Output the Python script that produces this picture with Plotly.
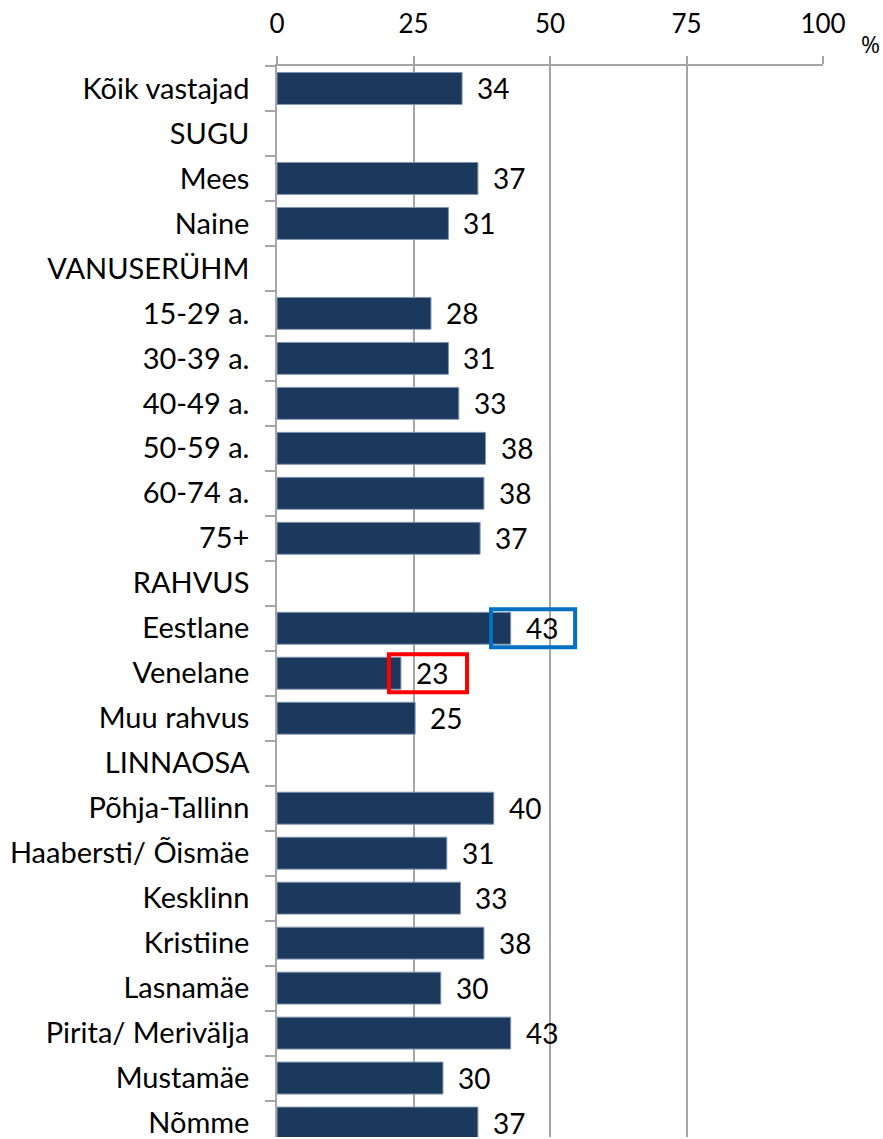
import plotly.graph_objects as go

categories = ["Kõik vastajad", "SUGU", "Mees", "Naine", "VANUSERÜHM", "15-29 a.", "30-39 a.",
              "40-49 a.", "50-59 a.", "60-74 a.", "75+", "RAHVUS", "Eestlane", "Venelane",
              "Muu rahvus", "LINNAOSA", "Põhja-Tallinn", "Haabersti/ Õismäe", "Kesklinn",
              "Kristiine", "Lasnamäe", "Pirita/ Merivälja", "Mustamäe", "Nõmme"]
values = [33.9, None, 36.8, 31.4, None, 28.2, 31.4, 33.3, 38.2, 37.9, 37.2, None, 42.8, 22.7,
          25.3, None, 39.7, 31.1, 33.6, 37.9, 30.0, 42.8, 30.4, 36.8]
labels = ["34", "", "37", "31", "", "28", "31", "33", "38", "38", "37", "", "43", "23",
          "25", "", "40", "31", "33", "38", "30", "43", "30", "37"]
x_ticks = [0, 25, 50, 75, 100]
unit_label = "%"
highlight = {"Eestlane": "#0070C0", "Venelane": "#FF0000"}
highlight_span = {"Eestlane": (39.2, 54.6), "Venelane": (20.5, 34.8)}

FONT = "Lato, Carlito, Calibri, 'Liberation Sans Narrow', sans-serif"

fig = go.Figure()
fig.add_trace(go.Bar(
    y=categories, x=values, orientation="h",
    marker=dict(color="#1B385D", line=dict(color="#8496B0", width=1)),
    hoverinfo="skip", showlegend=False,
))

for c, v, t in zip(categories, values, labels):
    if v is None:
        continue
    fig.add_annotation(x=v, y=c, xref="x", yref="y", text=t, showarrow=False,
                       xanchor="left", xshift=13, yshift=0,
                       font=dict(family=FONT, size=28, color="#000000"))

for c, col in highlight.items():
    i = categories.index(c)
    x0, x1 = highlight_span[c]
    fig.add_shape(type="rect", xref="x", yref="y", x0=x0, x1=x1, y0=i - 0.42, y1=i + 0.42,
                  line=dict(color=col, width=4), fillcolor="rgba(0,0,0,0)")

fig.add_annotation(x=1.066, y=1.0205, xref="paper", yref="paper", text=unit_label,
                   showarrow=False, xanchor="left", yanchor="middle",
                   font=dict(family="'Open Sans', sans-serif", size=23, color="#000000"))

fig.update_layout(
    width=883, height=1139,
    margin=dict(l=277, r=60, t=66, b=0),
    paper_bgcolor="white", plot_bgcolor="white",
    bargap=0.29,
    font=dict(family=FONT, size=28, color="#000000"),
    xaxis=dict(range=[0, 100], side="top", tickvals=x_ticks, ticktext=[str(v) for v in x_ticks],
               showgrid=True, gridcolor="#A6A6A6", gridwidth=1.5,
               showline=True, linecolor="#A6A6A6", linewidth=1.5,
               ticks="outside", ticklen=8, tickcolor="#A6A6A6", tickwidth=1.5,
               ticklabelstandoff=13,
               zeroline=False, tickfont=dict(family=FONT, size=26, color="#000000")),
    yaxis=dict(categoryorder="array", categoryarray=categories, range=[23.31, -0.5],
               showline=True, linecolor="#A6A6A6", linewidth=1.5,
               ticks="outside", tickson="boundaries", ticklen=10, tickcolor="#A6A6A6",
               tickwidth=1.5, showgrid=False, ticklabelstandoff=20,
               tickfont=dict(family=FONT, size=29, color="#000000")),
)

fig.write_html("out.html", config={"displayModeBar": False},
               post_script="document.body.style.margin='0';document.body.style.overflow='hidden';")
